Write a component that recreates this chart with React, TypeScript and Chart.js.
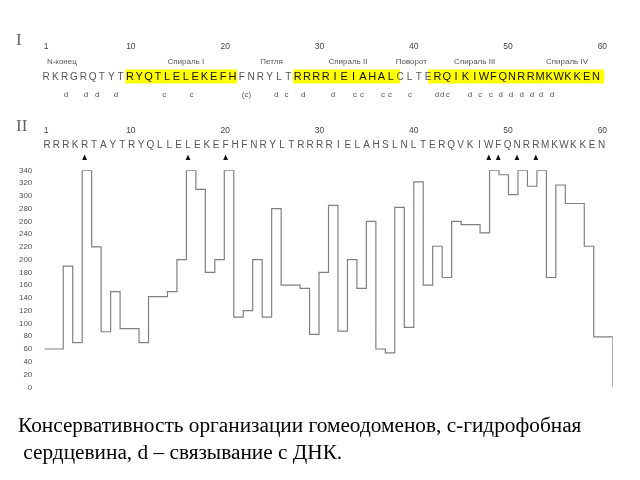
import React, { useEffect, useRef } from 'react';
import { Chart, registerables } from 'chart.js';

Chart.register(...registerables);

// ---- data ----
const sequenceI = 'RKRGRQTYTRYQTLELEKEFHFNRYLTRRRRIEIAHALCLTERQIKIWFQNRRMKWKKEN'.split('');
const sequenceII = 'RRRKRTAYTRYQLLELEKEFHFNRYLTRRRRIELAHSLNLTERQVKIWFQNRRMKWKKEN'.split('');
const residueTicks = [1, 10, 20, 30, 40, 50, 60];

const regionNames = ['N-конец', 'Спираль I', 'Петля', 'Спираль II', 'Поворот', 'Спираль III', 'Спираль IV'];
const regionCenters = [2.7, 16, 25.2, 33.4, 40.2, 47, 56.9];

// highlighted (helix) stretches of sequence I, in residue numbers
const helixStart = [10, 28, 42.5, 54];
const helixEnd = [21, 38.5, 53, 60.4];

// c = hydrophobic core, d = DNA binding (position in residue units, label)
const markPositions = [3.15, 5.3, 6.5, 8.5, 13.7, 16.6, 22.5, 25.7, 26.8, 28.6, 31.8, 34.15, 34.9, 37.15, 37.9, 40.05, 42.95, 43.5, 44.1, 46.5, 47.6, 48.75, 49.8, 50.9, 52.05, 53.15, 54.1, 55.3];
const markLabels = ['d', 'd', 'd', 'd', 'c', 'c', '(c)', 'd', 'c', 'd', 'd', 'c', 'c', 'c', 'c', 'c', 'd', 'd', 'c', 'd', 'c', 'c', 'd', 'd', 'd', 'd', 'd', 'd'];

// conserved residues in sequence II (triangles)
const conservedResidues = [5, 16, 20, 48, 49, 51, 53];

// conservation profile per residue 1..60
const conservation = [
  60, 60, 190, 70, 340, 220, 87, 150, 92, 92,
  70, 142, 142, 150, 200, 340, 310, 180, 200, 340,
  110, 120, 200, 110, 280, 160, 160, 155, 83, 180,
  285, 88, 200, 155, 260, 60, 54, 282, 94, 322,
  160, 221, 172, 260, 255, 255, 242, 340, 333, 302,
  340, 315, 340, 172, 317, 288, 288, 221, 79, 79,
];
const closingValue = 0;
const yTicksMax = 340;
const yTicksStep = 20;

const SANS = '"Liberation Sans", Arial, sans-serif';

const headerPlugin = {
  id: 'header',
  afterDraw(chart: any) {
    const ctx: CanvasRenderingContext2D = chart.ctx;
    const seqX1 = (p: number) => 46 + (p - 1) * 9.32;
    const seqX2 = (p: number) => 47 + (p - 1) * 9.4;
    const numX = (n: number) => 46 + (n - 1) * 9.43;
    ctx.save();
    ctx.textBaseline = 'middle';

    // --- section I ---
    ctx.fillStyle = '#444';
    ctx.font = `8.5px ${SANS}`;
    ctx.textAlign = 'center';
    residueTicks.forEach((n) => ctx.fillText(String(n), numX(n), 46.5));

    ctx.font = `8px ${SANS}`;
    ctx.fillStyle = '#555';
    regionNames.forEach((name, k) => ctx.fillText(name, seqX1(regionCenters[k]), 62));

    ctx.fillStyle = '#ffff00';
    helixStart.forEach((s, k) => {
      const x0 = seqX1(s) - 4.6;
      const x1 = seqX1(helixEnd[k]) + 4.6;
      ctx.fillRect(x0, 69.5, x1 - x0, 14);
    });
    const inHelix = (i: number) => helixStart.some((s, k) => i >= Math.ceil(s) && i <= Math.floor(helixEnd[k]));
    sequenceI.forEach((ch, idx) => {
      const i = idx + 1;
      if (inHelix(i)) {
        ctx.fillStyle = '#111';
        ctx.font = `11px ${SANS}`;
      } else {
        ctx.fillStyle = '#555';
        ctx.font = `10px ${SANS}`;
      }
      ctx.fillText(ch, seqX1(i), 77);
    });

    ctx.fillStyle = '#555';
    ctx.font = `8px ${SANS}`;
    markLabels.forEach((m, k) => ctx.fillText(m, seqX1(markPositions[k]), 94.5));

    // --- section II ---
    ctx.fillStyle = '#444';
    ctx.font = `8.5px ${SANS}`;
    residueTicks.forEach((n) => ctx.fillText(String(n), numX(n), 130.5));

    ctx.fillStyle = '#555';
    ctx.font = `10px ${SANS}`;
    sequenceII.forEach((ch, idx) => ctx.fillText(ch, seqX2(idx + 1), 145));

    ctx.fillStyle = '#111';
    conservedResidues.forEach((i) => {
      const x = seqX2(i);
      ctx.beginPath();
      ctx.moveTo(x, 154.5);
      ctx.lineTo(x + 2.4, 160);
      ctx.lineTo(x - 2.4, 160);
      ctx.closePath();
      ctx.fill();
    });
    ctx.restore();
  },
};

export default function App() {
  const canvasRef = useRef<HTMLCanvasElement | null>(null);

  useEffect(() => {
    if (!canvasRef.current) return;
    const points = conservation.map((v, k) => ({ x: k + 0.5, y: v }));
    points.push({ x: conservation.length + 0.5, y: closingValue });
    const chart = new Chart(canvasRef.current, {
      type: 'line',
      data: {
        datasets: [
          {
            data: points,
            stepped: true,
            borderColor: '#808080',
            borderWidth: 1.2,
            pointRadius: 0,
            fill: false,
          },
        ],
      },
      options: {
        animation: false,
        responsive: false,
        events: [],
        layout: { padding: { top: 170.3, bottom: 92.7, left: 0, right: 27.3 } },
        plugins: { legend: { display: false }, tooltip: { enabled: false } },
        scales: {
          x: { type: 'linear', min: 0.5, max: 60.5, display: false },
          y: {
            min: 0,
            max: yTicksMax,
            border: { display: false },
            grid: { display: false, drawTicks: false },
            ticks: {
              stepSize: yTicksStep,
              padding: 12,
              color: '#555',
              font: { size: 8, family: 'Liberation Sans, Arial, sans-serif' },
            },
            afterFit: (scale: any) => {
              scale.width = 44.3;
            },
          },
        },
      },
      plugins: [headerPlugin],
    });
    return () => chart.destroy();
  }, []);

  const serif = '"Liberation Serif", "Times New Roman", serif';
  return (
    <div style={{ position: 'absolute', left: 0, top: 0, width: 640, height: 480, background: '#fff', overflow: 'hidden' }}>
      <canvas ref={canvasRef} width={640} height={480} style={{ position: 'absolute', left: 0, top: 0 }} />
      <div style={{ position: 'absolute', left: 16, top: 31, fontFamily: serif, fontSize: 17, lineHeight: '17px', color: '#666' }}>I</div>
      <div style={{ position: 'absolute', left: 16, top: 117, fontFamily: serif, fontSize: 17, lineHeight: '17px', color: '#666' }}>II</div>
      <div style={{ position: 'absolute', left: 18, top: 412, fontFamily: serif, fontSize: 21.3, lineHeight: '27px', color: '#000', whiteSpace: 'pre' }}>
        {'Консервативность организации гомеодоменов, c-гидрофобная\n сердцевина, d – связывание с ДНК.'}
      </div>
    </div>
  );
}
